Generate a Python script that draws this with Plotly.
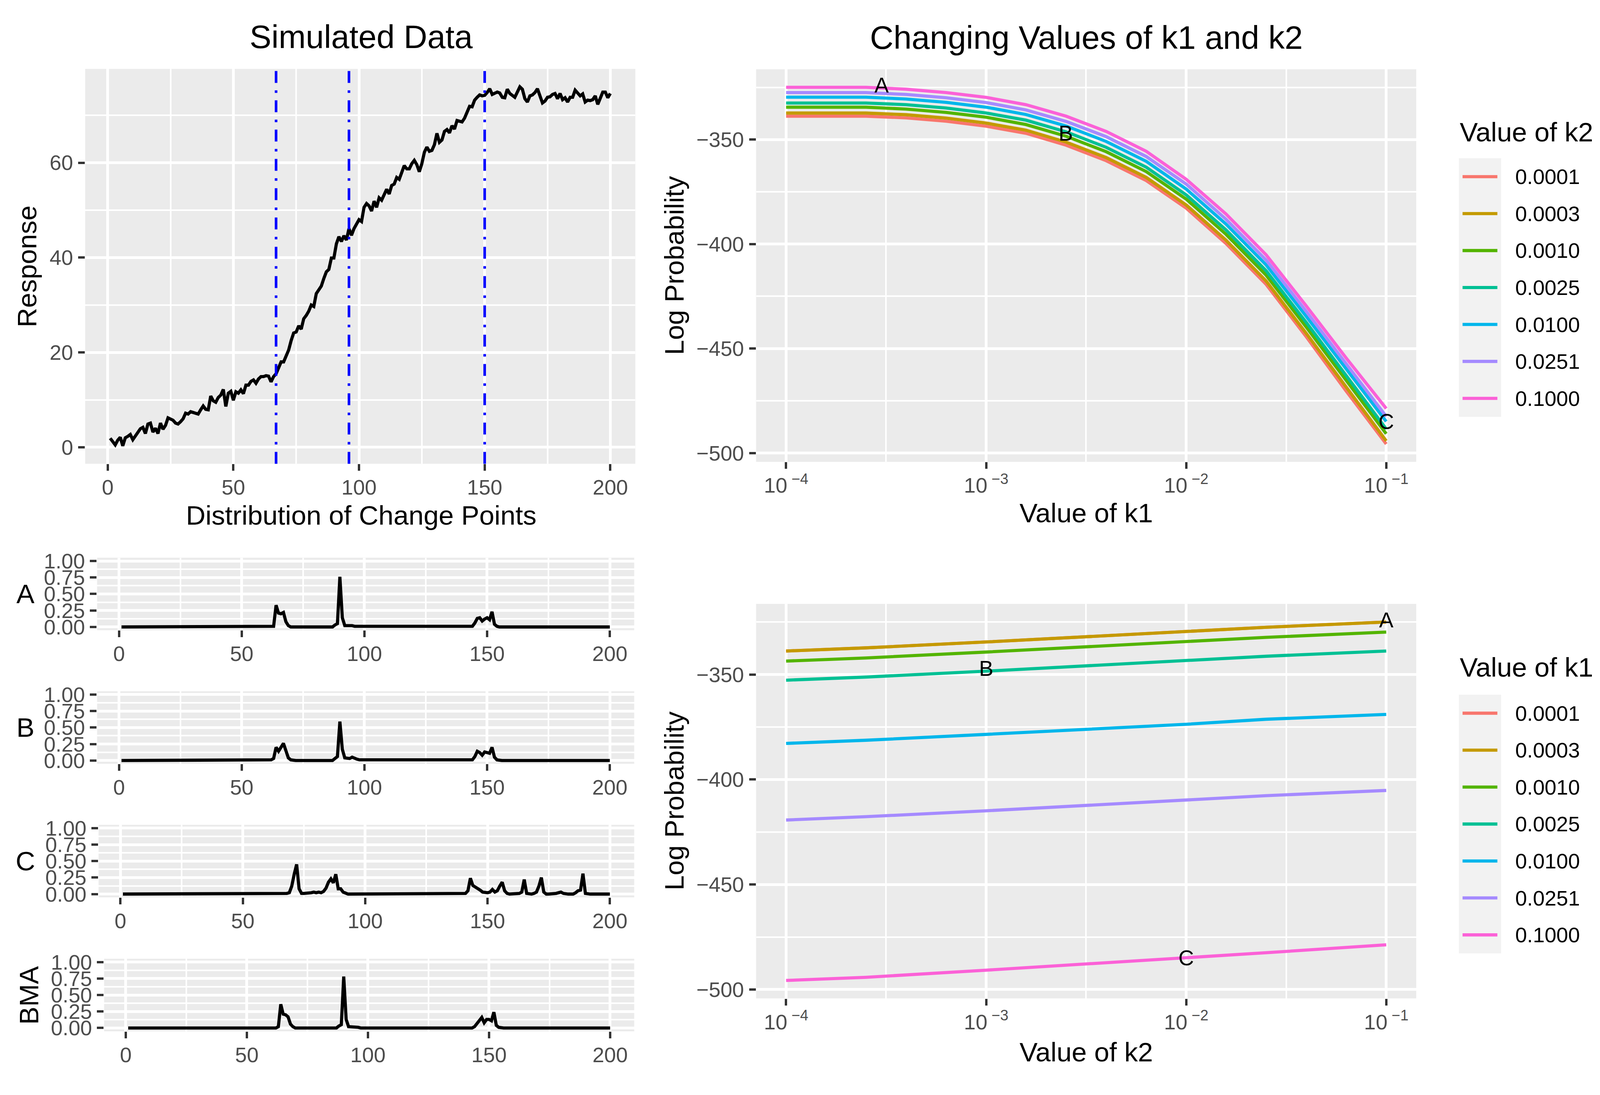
import plotly.graph_objects as go

FONT = "Liberation Sans, Arial, Helvetica, sans-serif"
# reference picture size (device pixels) and the observed css->picture scale of the viewer
REF_W, REF_H = 4319, 2803
DPR = 1.0534
M = 8 * DPR          # body margin, picture px
S = 1 / DPR          # picture px -> css px

# ------------------------------------------------------------------ data
time_index = list(range(1, 201))
response = [
    1.9, 1.2, 0.5, 1.5, 2.1, 0.3, 2.0, 2.3, 2.7, 1.6,
    2.4, 3.3, 3.9, 4.2, 2.9, 4.9, 5.1, 3.2, 4.0, 2.9,
    5.1, 3.8, 4.6, 6.2, 5.9, 5.7, 5.1, 4.9, 5.4, 6.0,
    7.2, 7.0, 7.5, 7.3, 7.1, 7.0, 7.9, 8.7, 8.0, 7.9,
    10.8, 9.8, 9.5, 10.5, 11.0, 12.2, 8.6, 11.4, 11.8, 9.9,
    11.7, 11.4, 12.1, 11.3, 13.1, 13.1, 13.9, 14.2, 13.5, 14.4,
    14.9, 14.9, 15.1, 15.0, 13.8, 14.9, 15.5, 16.9, 18.0, 18.0,
    19.3, 20.5, 22.5, 24.1, 24.3, 25.6, 24.9, 27.1, 27.8, 28.7,
    30.0, 29.7, 32.4, 33.1, 34.0, 35.6, 37.0, 37.5, 39.9, 39.9,
    42.9, 44.4, 43.4, 44.6, 43.7, 46.1, 44.7, 46.1, 47.0, 48.0,
    47.6, 50.6, 51.4, 50.9, 49.8, 51.9, 50.6, 52.6, 52.1, 53.1,
    54.4, 53.4, 55.2, 55.5, 56.9, 56.5, 57.9, 59.4, 58.7, 58.7,
    59.8, 60.5, 59.6, 58.1, 59.8, 62.2, 63.3, 62.4, 62.6, 63.8,
    66.2, 64.3, 64.8, 66.6, 67.0, 66.3, 67.8, 67.1, 68.9, 68.7,
    68.6, 69.4, 70.6, 71.9, 71.8, 73.2, 73.8, 74.3, 74.1, 74.2,
    74.8, 75.6, 74.4, 74.7, 74.9, 74.7, 73.8, 73.7, 75.5, 74.6,
    74.2, 73.8, 74.9, 76.0, 75.5, 73.5, 72.8, 74.1, 74.3, 74.8,
    75.6, 74.2, 72.6, 73.0, 73.8, 73.9, 74.4, 74.6, 73.5, 74.6,
    73.3, 73.7, 72.8, 73.8, 73.8, 75.3, 74.8, 74.1, 74.5, 72.8,
    73.2, 73.1, 73.3, 74.1, 72.3, 73.7, 74.9, 74.9, 73.7, 74.6,
]
change_points = [67, 96, 150]

# posterior change-point probabilities (points not listed are 0)
peaks_A = {54: 0.01, 63: 0.01, 64: 0.33, 65: 0.21, 66: 0.20, 67: 0.22, 68: 0.08, 69: 0.02,
           88: 0.03, 89: 0.05, 90: 0.76, 91: 0.14, 92: 0.02, 93: 0.02, 94: 0.03, 95: 0.02,
           96: 0.01, 97: 0.01, 144: 0.01, 145: 0.06, 146: 0.13, 147: 0.14, 148: 0.09,
           149: 0.12, 150: 0.14, 151: 0.11, 152: 0.23, 153: 0.04, 154: 0.01}
peaks_B = {62: 0.01, 63: 0.03, 64: 0.20, 65: 0.14, 66: 0.20, 67: 0.26, 68: 0.15, 69: 0.04,
           70: 0.01, 88: 0.03, 89: 0.06, 90: 0.59, 91: 0.17, 92: 0.04, 93: 0.04, 94: 0.03,
           95: 0.05, 96: 0.03, 97: 0.02, 98: 0.01, 99: 0.01, 144: 0.01, 145: 0.06, 146: 0.14,
           147: 0.12, 148: 0.08, 149: 0.13, 150: 0.12, 151: 0.11, 152: 0.20, 153: 0.05, 154: 0.01}
peaks_C = {68: 0.01, 69: 0.02, 70: 0.12, 71: 0.30, 72: 0.45, 73: 0.08, 74: 0.01, 75: 0.01,
           76: 0.01, 77: 0.01, 78: 0.02, 79: 0.03, 80: 0.02, 81: 0.03, 82: 0.02, 83: 0.04,
           84: 0.09, 85: 0.18, 86: 0.23, 87: 0.17, 88: 0.30, 89: 0.08, 90: 0.08, 91: 0.03,
           92: 0.01, 141: 0.01, 142: 0.05, 143: 0.24, 144: 0.13, 145: 0.11, 146: 0.08,
           147: 0.06, 148: 0.03, 149: 0.02, 150: 0.02, 151: 0.03, 152: 0.07, 153: 0.03,
           154: 0.05, 155: 0.12, 156: 0.18, 157: 0.05, 158: 0.01, 163: 0.01, 164: 0.03,
           165: 0.22, 166: 0.01, 169: 0.01, 170: 0.03, 171: 0.12, 172: 0.25, 173: 0.03,
           178: 0.01, 179: 0.02, 180: 0.03, 181: 0.01, 186: 0.02, 187: 0.05, 188: 0.06,
           189: 0.31, 190: 0.01}
peaks_BMA = {63: 0.02, 64: 0.36, 65: 0.21, 66: 0.20, 67: 0.17, 68: 0.06, 69: 0.02,
             88: 0.03, 89: 0.05, 90: 0.78, 91: 0.13, 92: 0.02, 93: 0.02, 94: 0.02, 95: 0.01,
             96: 0.01, 144: 0.02, 145: 0.07, 146: 0.13, 147: 0.16, 148: 0.08, 149: 0.13,
             150: 0.13, 151: 0.11, 152: 0.24, 153: 0.04, 154: 0.01}

panel_names = ["A", "B", "C", "BMA"]

# log probability grid: k1 on x, one series per k2
k1_grid = [0.0001, 0.000158, 0.000251, 0.000398, 0.000631, 0.001, 0.00158, 0.00251,
           0.00398, 0.00631, 0.01, 0.0158, 0.0251, 0.0398, 0.0631, 0.1]
k_values = [0.0001, 0.000251, 0.001, 0.00251, 0.01, 0.0251, 0.1]
k_labels = ["0.0001", "0.0003", "0.0010", "0.0025", "0.0100", "0.0251", "0.1000"]
k1_legend_index = [0, 2, 5, 7, 10, 12, 15]

logp_k2_0001 = [-338.8, -338.7, -338.8, -339.6, -341.2, -343.6, -347.0, -352.7,
                -360.1, -369.6, -382.8, -399.7, -419.3, -444.3, -470.4, -495.7]
logp_k2_0003 = [-337.3, -337.2, -337.3, -338.1, -339.7, -342.1, -345.5, -351.2,
                -358.6, -368.1, -381.3, -398.1, -417.7, -442.7, -468.7, -494.2]
logp_k2_0010 = [-334.5, -334.4, -334.5, -335.4, -337.0, -339.3, -342.8, -348.4,
                -355.8, -365.3, -378.5, -395.3, -414.9, -439.7, -465.5, -490.8]
logp_k2_0025 = [-332.5, -332.4, -332.5, -333.3, -334.9, -337.3, -340.7, -346.3,
                -353.7, -363.2, -376.5, -393.2, -412.8, -437.5, -463.1, -488.5]
logp_k2_0100 = [-329.7, -329.6, -329.7, -330.6, -332.2, -334.5, -338.0, -343.5,
                -350.9, -360.4, -373.7, -390.4, -410.0, -434.6, -460.0, -484.9]
logp_k2_0251 = [-327.5, -327.4, -327.5, -328.4, -330.0, -332.3, -335.8, -341.3,
                -348.6, -358.1, -371.3, -388.1, -407.7, -432.2, -457.4, -482.5]
logp_k2_1000 = [-325.0, -324.9, -325.0, -325.9, -327.5, -329.8, -333.3, -338.8,
                -346.1, -355.6, -369.0, -385.6, -405.2, -429.6, -454.6, -478.7]
logp_series = [logp_k2_0001, logp_k2_0003, logp_k2_0010, logp_k2_0025,
               logp_k2_0100, logp_k2_0251, logp_k2_1000]

point_labels = ["A", "B", "C"]
point_k1 = [0.0003, 0.0025, 0.1]
point_k2 = [0.1, 0.001, 0.01]
point_logp = [-325.0, -348.0, -486.0]

hue_colors = ["#F8766D", "#C49A00", "#53B400", "#00C094", "#00B6EB", "#A58AFF", "#FB61D7"]

# ------------------------------------------------------------------ helpers
def px(X):
    return (X - M) / (REF_W - 2 * M)

def py(Y):
    return 1 - (Y - M) / (REF_H - 2 * M)

def dxd(a, b):
    return [px(a), px(b)]

def dyd(top, bottom):
    return [py(bottom), py(top)]

def fs(v):   # size given in reference picture px -> css px
    return v * S

LW = fs(8.5)
TICKFONT = dict(family=FONT, size=fs(57), color="#4D4D4D")

def axis(domain, rng, tickvals, ticktext=None, minor_vals=None, anchor=None, typ="linear",
         standoff=0):
    d = dict(domain=domain, range=rng, type=typ, tickmode="array", tickvals=tickvals,
             showgrid=True, gridcolor="white", gridwidth=fs(7.5), zeroline=False,
             showline=False, ticks="outside", ticklen=fs(18), tickwidth=fs(6),
             tickcolor="#333333", tickfont=TICKFONT, fixedrange=True, anchor=anchor,
             ticklabelstandoff=round(fs(standoff)))
    if ticktext is not None:
        d["ticktext"] = ticktext
    if minor_vals is not None:
        d["minor"] = dict(tickmode="array", tickvals=minor_vals, showgrid=True,
                          gridcolor="white", gridwidth=fs(3.8), ticks="")
    return d

fig = go.Figure()
layout = {}

# ------------------------------------------------------------------ top-left panel
rmin, rmax = min(response), max(response)
rpad = 0.05 * (rmax - rmin)
tpad = 0.05 * (max(time_index) - min(time_index))
t_range = [min(time_index) - tpad, max(time_index) + tpad]

fig.add_trace(go.Scatter(x=time_index, y=response, mode="lines",
                         line=dict(color="black", width=LW), xaxis="x", yaxis="y",
                         showlegend=False, hoverinfo="skip"))
layout["xaxis"] = axis(dxd(230, 1715), t_range, [0, 50, 100, 150, 200],
                       minor_vals=[25, 75, 125, 175], anchor="y", standoff=-4)
layout["yaxis"] = axis(dyd(158, 1184), [rmin - rpad, rmax + rpad], [0, 20, 40, 60],
                       minor_vals=[10, 30, 50, 70], anchor="x", standoff=2)

shapes = []
for cp in change_points:
    shapes.append(dict(type="line", xref="x", yref="y domain", x0=cp, x1=cp, y0=0, y1=1,
                       line=dict(color="#0000FF", width=fs(7),
                                 dash=f"{fs(32):.1f}px,{fs(20):.1f}px,{fs(7):.1f}px,{fs(20):.1f}px")))

# ------------------------------------------------------------------ small probability panels
small_boxes = [(262, 1428, 1616.5), (262, 1775, 1963.5), (266, 2122, 2310.5), (281, 2470, 2658.5)]
for i, (name, peaks, box) in enumerate(zip(panel_names, [peaks_A, peaks_B, peaks_C, peaks_BMA],
                                           small_boxes)):
    n = i + 2
    probs = [peaks.get(t, 0.0) for t in time_index]
    fig.add_trace(go.Scatter(x=time_index, y=probs, mode="lines",
                             line=dict(color="black", width=LW),
                             xaxis=f"x{n}", yaxis=f"y{n}", showlegend=False, hoverinfo="skip"))
    left, top, bottom = box
    layout[f"xaxis{n}"] = axis(dxd(left, 1712), t_range, [0, 50, 100, 150, 200],
                               minor_vals=[25, 75, 125, 175], anchor=f"y{n}", standoff=-4)
    layout[f"yaxis{n}"] = axis(dyd(top, bottom), [-0.05, 1.05], [0, 0.25, 0.5, 0.75, 1.0],
                               ticktext=["0.00", "0.25", "0.50", "0.75", "1.00"],
                               minor_vals=[0.125, 0.375, 0.625, 0.875], anchor=f"x{n}",
                               standoff=2)

# ------------------------------------------------------------------ log probability panels
all_lp = [v for s in logp_series for v in s]
lmin, lmax = min(all_lp), max(all_lp)
lpad = 0.05 * (lmax - lmin)
lp_range = [lmin - lpad, lmax + lpad]
log_range = [-4 - 0.15, -1 + 0.15]
k_ticks = [0.0001, 0.001, 0.01, 0.1]
k_ticktext = ["10<sup> −4</sup>", "10<sup> −3</sup>", "10<sup> −2</sup>", "10<sup> −1</sup>"]
k_minor = [0.000316, 0.00316, 0.0316]
lp_ticks = [-350, -400, -450, -500]
lp_ticktext = ["−350", "−400", "−450", "−500"]

# top: series per k2 along k1
for series, color in zip(logp_series, hue_colors):
    fig.add_trace(go.Scatter(x=k1_grid, y=series, mode="lines", line=dict(color=color, width=LW),
                             xaxis="x6", yaxis="y6", showlegend=False, hoverinfo="skip"))
fig.add_trace(go.Scatter(x=point_k1, y=point_logp, mode="text", text=point_labels,
                         textfont=dict(family=FONT, size=fs(58), color="black"),
                         textposition="middle center", xaxis="x6", yaxis="y6",
                         showlegend=False, hoverinfo="skip"))

# bottom: series per k1 along k2
for idx, color in zip(k1_legend_index, hue_colors):
    ys = [s[idx] for s in logp_series]
    fig.add_trace(go.Scatter(x=k_values, y=ys, mode="lines", line=dict(color=color, width=LW),
                             xaxis="x7", yaxis="y7", showlegend=False, hoverinfo="skip"))
fig.add_trace(go.Scatter(x=point_k2, y=point_logp, mode="text", text=point_labels,
                         textfont=dict(family=FONT, size=fs(58), color="black"),
                         textposition="middle center", xaxis="x7", yaxis="y7",
                         showlegend=False, hoverinfo="skip"))

layout["xaxis6"] = axis(dxd(2041, 3823), log_range, k_ticks, ticktext=k_ticktext,
                        minor_vals=k_minor, anchor="y6", typ="log", standoff=-4)
layout["yaxis6"] = axis(dyd(159, 1179), lp_range, lp_ticks, ticktext=lp_ticktext,
                        minor_vals=[-325, -375, -425, -475], anchor="x6", standoff=2)
layout["xaxis7"] = axis(dxd(2041, 3823), log_range, k_ticks, ticktext=k_ticktext,
                        minor_vals=k_minor, anchor="y7", typ="log", standoff=-4)
layout["yaxis7"] = axis(dyd(1548, 2573), lp_range, lp_ticks, ticktext=lp_ticktext,
                        minor_vals=[-325, -375, -425, -475], anchor="x7", standoff=2)

# ------------------------------------------------------------------ text annotations
ann = []
def text(X, Y, s, size, angle=0, color="black", xanchor="center"):
    ann.append(dict(x=px(X), y=py(Y), xref="paper", yref="paper", text=s, showarrow=False,
                    textangle=angle, xanchor=xanchor, yanchor="middle",
                    font=dict(family=FONT, size=fs(size), color=color)))

text(975, 74, "Simulated Data", 88)
text(2932, 76, "Changing Values of k1 and k2", 88)
text(975, 1318, "Distribution of Change Points", 73)
text(73, 671, "Response", 73, angle=-90)
text(2932, 1312, "Value of k1", 73)
text(2932, 2712, "Value of k2", 73)
text(1820, 669, "Log Probability", 73, angle=-90)
text(1820, 2060, "Log Probability", 73, angle=-90)
for name, (left, top, bottom) in zip(panel_names, small_boxes):
    if name == "BMA":
        text(78, (top + bottom) / 2, name, 73, angle=-90)
    else:
        text(69, (top + bottom) / 2, name, 73)

# ------------------------------------------------------------------ manual legends
def legend(title, title_y, item_ys):
    text(3938, title_y, title, 73, xanchor="left")
    shapes.append(dict(type="rect", xref="paper", yref="paper",
                       x0=px(3938), x1=px(4052), y0=py(item_ys[-1] + 48), y1=py(item_ys[0] - 48),
                       fillcolor="#F2F2F2", line=dict(width=0), layer="below"))
    for yy, color, lab in zip(item_ys, hue_colors, k_labels):
        shapes.append(dict(type="line", xref="paper", yref="paper",
                           x0=px(3948), x1=px(4042), y0=py(yy), y1=py(yy),
                           line=dict(color=color, width=LW)))
        text(4088, yy, lab, 57, xanchor="left")

legend("Value of k2", 322, [438, 534, 630, 726, 822, 918, 1014])
legend("Value of k1", 1713, [1832, 1928, 2024, 2120, 2216, 2312, 2408])

fig.update_layout(autosize=True, margin=dict(l=0, r=0, t=0, b=0),
                  paper_bgcolor="white", plot_bgcolor="#EBEBEB", showlegend=False,
                  font=dict(family=FONT), shapes=shapes, annotations=ann, **layout)

fig.write_html("out.html", default_width="calc(100vw - 16px)",
               default_height="calc(100vh - 16px)")
